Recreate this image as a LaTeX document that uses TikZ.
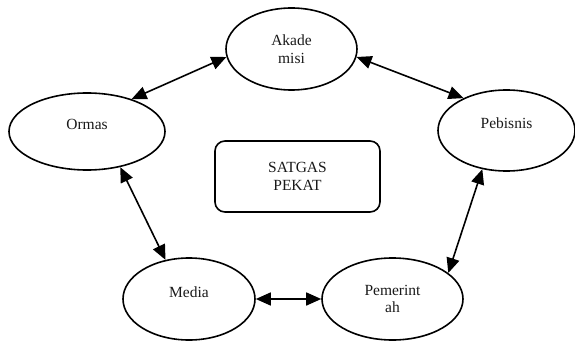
\documentclass[tikz,border=0pt]{standalone}
\usepackage{fontspec}
\setmainfont{Liberation Serif}
\usetikzlibrary{shapes.geometric, arrows.meta, positioning}
\usepackage{xcolor}
\definecolor{linedark}{RGB}{0, 0, 0}
\definecolor{textdark}{RGB}{25, 25, 25}

\begin{document}
\begin{tikzpicture}[
    x=1pt, y=-1pt,
    actor/.style={ellipse, draw=linedark, inner sep=0pt, align=center, line width=1.6pt, text=textdark, font=\fontsize{15.5}{17.7}\selectfont},
    oneline/.style={text height=10pt, text depth=14pt},
    hub/.style={rectangle, draw=linedark, rounded corners=10pt, minimum width=165pt, minimum height=71pt, align=center, line width=1.6pt, text=textdark, font=\fontsize{15.5}{17.7}\selectfont},
    link/.style={{Triangle[length=15pt, width=13pt]}-{Triangle[length=15pt, width=13pt]}, line width=1.6pt, color=linedark},
]
\useasboundingbox (0,0) rectangle (575,342);

% Stakeholders
\node[actor, minimum width=131pt, minimum height=82pt] (akademisi) at (291.5, 49) {Akade\\misi};
\node[actor, oneline, minimum width=156pt, minimum height=77pt] (ormas) at (87, 131.5) {Ormas};
\node[actor, oneline, minimum width=137pt, minimum height=81pt] (pebisnis) at (506.5, 130.5) {Pebisnis};
\node[actor, oneline, minimum width=132pt, minimum height=82pt] (media) at (189, 299) {Media};
\node[actor, minimum width=141pt, minimum height=82pt] (pemerintah) at (392.5, 299) {Pemerint\\ah};

% Task force
\node[hub] (satgas) at (297.5, 176.5) {SATGAS\\PEKAT};

% Relations
\draw[link] (ormas.36) -- (akademisi.187);
\draw[link] (akademisi.353) -- (pebisnis.143);
\draw[link] (ormas.313) -- (media.121);
\draw[link] (pebisnis.238) -- (pemerintah.25);
\draw[link] (media) -- (pemerintah);

\end{tikzpicture}
\end{document}
